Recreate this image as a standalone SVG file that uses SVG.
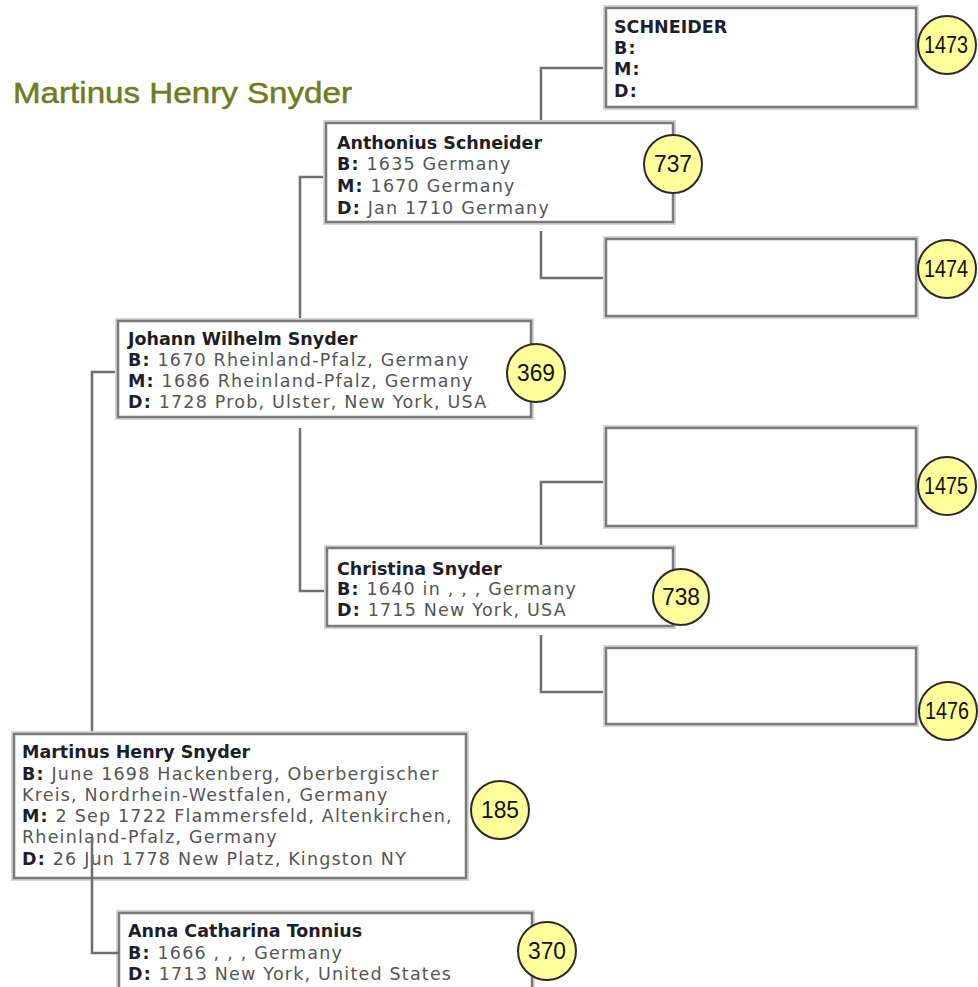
<svg xmlns="http://www.w3.org/2000/svg" width="978" height="987" viewBox="0 0 978 987">
<style>
  .halo { fill: none; stroke: #d6d6d6; stroke-width: 6; }
  .box { fill: #ffffff; stroke: #7a7a7a; stroke-width: 2.5; }
  .conn { fill: none; stroke: #6e6e6e; stroke-width: 2.5; }
  .badge { fill: #ffff9c; stroke: #2a2a2a; stroke-width: 2; }
  .num { font-family: "Liberation Sans", Arial, sans-serif; font-size: 24px; fill: #111; text-anchor: middle; }
  .t { font-family: "DejaVu Sans", Verdana, sans-serif; font-size: 17.5px; fill: #555; letter-spacing: 1.2px; }
  .t .b, .name { font-weight: bold; fill: #1e1e28; }
  .name { font-family: "DejaVu Sans", Verdana, sans-serif; font-size: 17.5px; letter-spacing: 0; }
  .title { font-family: "Liberation Sans", Arial, sans-serif; font-size: 30px; fill: #6e7b1e; stroke: #6e7b1e; stroke-width: 0.5; }
</style>

<text class="title" x="13" y="103" textLength="339" lengthAdjust="spacingAndGlyphs">Martinus Henry Snyder</text>

<g id="connectors">
  <path class="conn" d="M606,68 H541 V123"/>
  <path class="conn" d="M541,231 V278 H606"/>
  <path class="conn" d="M326,177 H300 V321"/>
  <path class="conn" d="M300,428 V591 H327"/>
  <path class="conn" d="M606,482 H541 V548"/>
  <path class="conn" d="M541,635 V692 H606"/>
  <path class="conn" d="M119,372 H92 V734"/>
</g>

<g id="node-1473">
  <rect class="halo" x="606" y="8" width="310" height="99"/>
  <rect class="box" x="606" y="8" width="310" height="99"/>
  <text class="name" x="614" y="33">SCHNEIDER</text>
  <text class="t" x="614" y="54"><tspan class="b">B:</tspan></text>
  <text class="t" x="614" y="75"><tspan class="b">M:</tspan></text>
  <text class="t" x="614" y="97"><tspan class="b">D:</tspan></text>
  <circle class="badge" cx="947" cy="45" r="29"/>
  <text class="num" x="946" y="53" textLength="44" lengthAdjust="spacingAndGlyphs">1473</text>
</g>

<g id="node-737">
  <rect class="halo" x="326" y="123" width="347" height="99"/>
  <rect class="box" x="326" y="123" width="347" height="99"/>
  <text class="name" x="337" y="149">Anthonius Schneider</text>
  <text class="t" x="337" y="170"><tspan class="b">B:</tspan> 1635 Germany</text>
  <text class="t" x="337" y="192"><tspan class="b">M:</tspan> 1670 Germany</text>
  <text class="t" x="337" y="214"><tspan class="b">D:</tspan> Jan 1710 Germany</text>
  <circle class="badge" cx="673" cy="164" r="29"/>
  <text class="num" x="673" y="172" textLength="38" lengthAdjust="spacingAndGlyphs">737</text>
</g>

<g id="node-1474">
  <rect class="halo" x="606" y="239" width="310" height="77"/>
  <rect class="box" x="606" y="239" width="310" height="77"/>
  <circle class="badge" cx="947" cy="269" r="29"/>
  <text class="num" x="946" y="277" textLength="44" lengthAdjust="spacingAndGlyphs">1474</text>
</g>

<g id="node-369">
  <rect class="halo" x="118" y="321" width="413" height="96"/>
  <rect class="box" x="118" y="321" width="413" height="96"/>
  <text class="name" x="128" y="345">Johann Wilhelm Snyder</text>
  <text class="t" x="128" y="366"><tspan class="b">B:</tspan> 1670 Rheinland-Pfalz, Germany</text>
  <text class="t" x="128" y="387"><tspan class="b">M:</tspan> 1686 Rheinland-Pfalz, Germany</text>
  <text class="t" x="128" y="408"><tspan class="b">D:</tspan> 1728 Prob, Ulster, New York, USA</text>
  <circle class="badge" cx="536" cy="373" r="29"/>
  <text class="num" x="536" y="381" textLength="38" lengthAdjust="spacingAndGlyphs">369</text>
</g>

<g id="node-1475">
  <rect class="halo" x="606" y="428" width="310" height="98"/>
  <rect class="box" x="606" y="428" width="310" height="98"/>
  <circle class="badge" cx="947" cy="486" r="29"/>
  <text class="num" x="946" y="494" textLength="44" lengthAdjust="spacingAndGlyphs">1475</text>
</g>

<g id="node-738">
  <rect class="halo" x="327" y="548" width="346" height="78"/>
  <rect class="box" x="327" y="548" width="346" height="78"/>
  <text class="name" x="337" y="575">Christina Snyder</text>
  <text class="t" x="337" y="595"><tspan class="b">B:</tspan> 1640 in , , , Germany</text>
  <text class="t" x="337" y="616"><tspan class="b">D:</tspan> 1715 New York, USA</text>
  <circle class="badge" cx="681" cy="597" r="28"/>
  <text class="num" x="681" y="605" textLength="38" lengthAdjust="spacingAndGlyphs">738</text>
</g>

<g id="node-1476">
  <rect class="halo" x="606" y="648" width="310" height="76"/>
  <rect class="box" x="606" y="648" width="310" height="76"/>
  <circle class="badge" cx="948" cy="711" r="29"/>
  <text class="num" x="947" y="719" textLength="44" lengthAdjust="spacingAndGlyphs">1476</text>
</g>

<g id="node-185">
  <rect class="halo" x="14" y="734" width="452" height="144"/>
  <rect class="box" x="14" y="734" width="452" height="144"/>
  <text class="name" x="22" y="758">Martinus Henry Snyder</text>
  <text class="t" x="22" y="780"><tspan class="b">B:</tspan> June 1698 Hackenberg, Oberbergischer</text>
  <text class="t" x="22" y="801">Kreis, Nordrhein-Westfalen, Germany</text>
  <text class="t" x="22" y="822"><tspan class="b">M:</tspan> 2 Sep 1722 Flammersfeld, Altenkirchen,</text>
  <text class="t" x="22" y="843">Rheinland-Pfalz, Germany</text>
  <text class="t" x="22" y="865"><tspan class="b">D:</tspan> 26 Jun 1778 New Platz, Kingston NY</text>
  <circle class="badge" cx="500" cy="810" r="29"/>
  <text class="num" x="500" y="818" textLength="38" lengthAdjust="spacingAndGlyphs">185</text>
</g>

<g id="node-370">
  <rect class="halo" x="119" y="913" width="413" height="100"/>
  <rect class="box" x="119" y="913" width="413" height="100"/>
  <text class="name" x="128" y="937">Anna Catharina Tonnius</text>
  <text class="t" x="128" y="959"><tspan class="b">B:</tspan> 1666 , , , Germany</text>
  <text class="t" x="128" y="980"><tspan class="b">D:</tspan> 1713 New York, United States</text>
  <circle class="badge" cx="547" cy="951" r="29"/>
  <text class="num" x="547" y="959" textLength="38" lengthAdjust="spacingAndGlyphs">370</text>
</g>

<g id="connectors-over">
  <path class="conn" d="M92,838 V953 H119"/>
</g>
</svg>
